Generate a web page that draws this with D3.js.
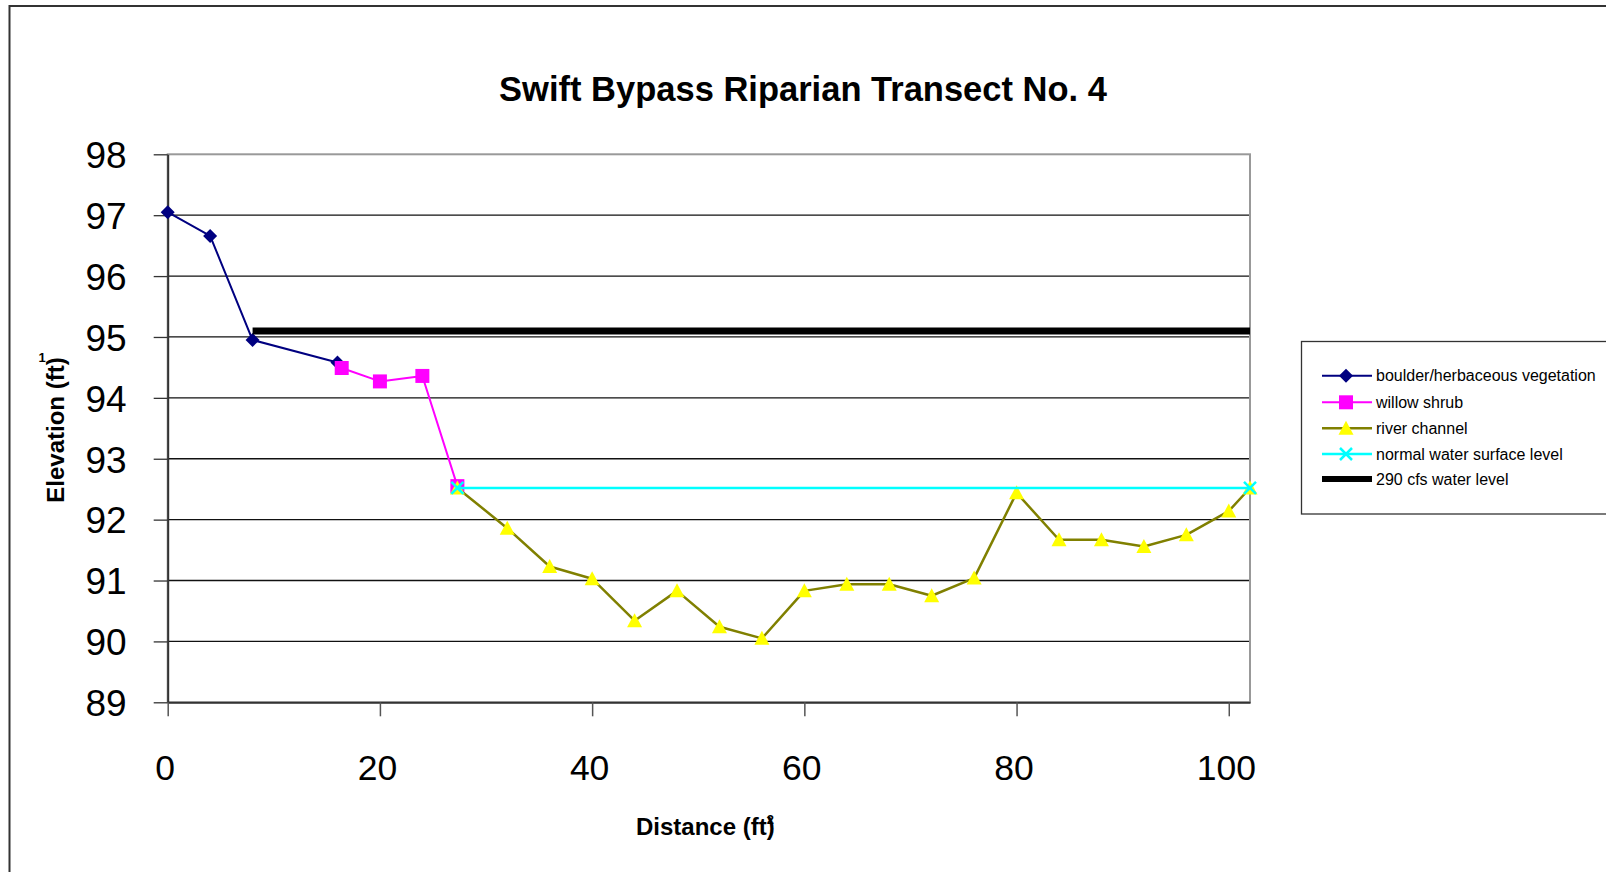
<!DOCTYPE html>
<html>
<head>
<meta charset="utf-8">
<script src="https://cdn.jsdelivr.net/npm/d3@7"></script>
<style>
  html, body { margin: 0; padding: 0; background: #fff; overflow: hidden; }
  svg { display: block; font-family: Arial, "Liberation Sans", sans-serif; }
</style>
</head>
<body>
<svg id="chart" width="1606" height="872"></svg>
<script>
// ---- Data ----
const title = "Swift Bypass Riparian Transect No. 4";
const xTicks = [0, 20, 40, 60, 80, 100];
const yTicks = [89, 90, 91, 92, 93, 94, 95, 96, 97, 98];

const boulderX = [0, 4, 8, 16];
const boulderY = [97.05, 96.66, 94.95, 94.58];

const willowX = [16.4, 20, 24, 27.3];
const willowY = [94.49, 94.27, 94.36, 92.55];

const riverX = [27.3, 32, 36, 40, 44, 48, 52, 56, 60, 64, 68, 72, 76, 80, 84, 88, 92, 96, 100, 102];
const riverY = [92.52, 91.86, 91.23, 91.03, 90.34, 90.83, 90.24, 90.05, 90.83, 90.94, 90.94, 90.75, 91.04, 92.44, 91.67, 91.67, 91.56, 91.75, 92.14, 92.52];

const normalX = [27.3, 102];
const normalY = [92.52, 92.52];

const cfsX = [8, 102];
const cfsY = [95.1, 95.1];

const seriesNames = ["boulder/herbaceous vegetation", "willow shrub", "river channel", "normal water surface level", "290 cfs water level"];

// ---- Layout ----
const svg = d3.select("#chart");
const L = 167.7, R = 1250, T = 154.3, B = 702.3;
const x = d3.scaleLinear().domain([0, 102]).range([L, R]);
const y = d3.scaleLinear().domain([89, 98]).range([B, T]);
const FONT = "Arial, 'Liberation Sans', sans-serif";

// outer chart border
svg.append("rect").attr("x", 9.5).attr("y", 6).attr("width", 1700).attr("height", 1000)
  .attr("fill", "none").attr("stroke", "#333").attr("stroke-width", 2);

// title
svg.append("text").attr("x", 803).attr("y", 101).attr("text-anchor", "middle")
  .attr("font-size", 34.5).attr("font-weight", "bold").attr("fill", "#000").text(title);

// gridlines
svg.append("g").selectAll("line").data(yTicks.filter(d => d !== 89 && d !== 98)).join("line")
  .attr("x1", L).attr("x2", R).attr("y1", d => y(d)).attr("y2", d => y(d))
  .attr("stroke", "#111").attr("stroke-width", 1.3);

// plot border (gray)
svg.append("rect").attr("x", L).attr("y", T).attr("width", R - L).attr("height", B - T)
  .attr("fill", "none").attr("stroke", "#999").attr("stroke-width", 2);

// Y axis
const yAxis = d3.axisLeft(y).tickValues(yTicks).tickSize(14).tickSizeOuter(0).tickFormat(d3.format("d"));
const gy = svg.append("g").attr("transform", `translate(${L},0)`).call(yAxis);
gy.select(".domain").attr("stroke", "#333").attr("stroke-width", 2);
gy.selectAll(".tick line").attr("stroke", "#333").attr("stroke-width", 1.3);
gy.selectAll(".tick text").attr("font-size", 37).attr("fill", "#000")
  .attr("font-family", FONT).attr("x", -41).attr("dy", "0.36em");

// X axis
const xAxis = d3.axisBottom(x).tickValues(xTicks).tickSize(14).tickSizeOuter(0).tickFormat(d3.format("d"));
const gx = svg.append("g").attr("transform", `translate(0,${B})`).call(xAxis);
gx.select(".domain").attr("stroke", "#333").attr("stroke-width", 2);
gx.selectAll(".tick line").attr("stroke", "#555").attr("stroke-width", 1.5);
gx.selectAll(".tick text").attr("font-size", 35.5).attr("fill", "#000")
  .attr("font-family", FONT).attr("y", 0).attr("dy", 0).attr("transform", "translate(-3,78)");

// axis titles
const xt = svg.append("text").attr("x", 636).attr("y", 835).attr("font-size", 24)
  .attr("font-weight", "bold").attr("fill", "#000").text("Distance (ft)");
const xtLen = xt.node().getComputedTextLength();
svg.append("text").attr("x", 636 + xtLen - 8).attr("y", 824).attr("font-size", 13)
  .attr("font-weight", "bold").attr("fill", "#000").text("2");

const yt = svg.append("text").attr("transform", "translate(64,430) rotate(-90)")
  .attr("text-anchor", "middle").attr("font-size", 24).attr("font-weight", "bold")
  .attr("fill", "#000").text("Elevation (ft)");
const ytLen = yt.node().getComputedTextLength();
svg.append("text").attr("x", 42).attr("y", 430 - ytLen / 2 + 5).attr("text-anchor", "middle")
  .attr("font-size", 13).attr("font-weight", "bold").attr("fill", "#000").text("1");

// ---- Series ----
const pts = (xs, ys) => xs.map((v, i) => [v, ys[i]]);
const line = d3.line().x(d => x(d[0])).y(d => y(d[1]));
const plot = svg.append("g");

const diamond = "M0,-7L7,0L0,7L-7,0Z";
const square = "M-7,-7H7V7H-7Z";
const triangle = "M0,-7.5L7.5,6.5L-7.5,6.5Z";
const cross = "M-6,-6L6,6M6,-6L-6,6";

function drawSeries(data, color, width, markerPath, markerFill, markerStroke, markerStrokeW) {
  plot.append("path").datum(data).attr("d", line).attr("fill", "none")
    .attr("stroke", color).attr("stroke-width", width).attr("stroke-linejoin", "round");
  if (markerPath) {
    plot.append("g").selectAll("path").data(data).join("path")
      .attr("transform", d => `translate(${x(d[0])},${y(d[1])})`)
      .attr("d", markerPath).attr("fill", markerFill)
      .attr("stroke", markerStroke || "none").attr("stroke-width", markerStrokeW || 0);
  }
}

drawSeries(pts(boulderX, boulderY), "#000080", 2, diamond, "#000080");
drawSeries(pts(willowX, willowY), "#FF00FF", 2, square, "#FF00FF");
drawSeries(pts(riverX, riverY), "#808000", 2.5, triangle, "#FFFF00");
drawSeries(pts(normalX, normalY), "#00FFFF", 2.5, cross, "none", "#00FFFF", 2.5);
drawSeries(pts(cfsX, cfsY), "#000000", 7, null);

// ---- Legend ----
const lg = svg.append("g");
lg.append("rect").attr("x", 1301.5).attr("y", 341.5).attr("width", 400).attr("height", 172.5)
  .attr("fill", "#fff").attr("stroke", "#333").attr("stroke-width", 1.3);
const legendStyles = [
  {color: "#000080", w: 2, m: diamond, fill: "#000080"},
  {color: "#FF00FF", w: 2, m: square, fill: "#FF00FF"},
  {color: "#808000", w: 2.5, m: triangle, fill: "#FFFF00"},
  {color: "#00FFFF", w: 2.5, m: cross, fill: "none", stroke: "#00FFFF", sw: 2.5},
  {color: "#000000", w: 6, m: null}
];
const rowY = [375.7, 402.3, 428.3, 454, 479];
seriesNames.forEach((name, i) => {
  const s = legendStyles[i];
  const yy = rowY[i];
  lg.append("line").attr("x1", 1322).attr("x2", 1372).attr("y1", yy).attr("y2", yy)
    .attr("stroke", s.color).attr("stroke-width", s.w);
  if (s.m) {
    lg.append("path").attr("transform", `translate(1346,${yy})`).attr("d", s.m)
      .attr("fill", s.fill).attr("stroke", s.stroke || "none").attr("stroke-width", s.sw || 0);
  }
  lg.append("text").attr("x", 1376).attr("y", yy).attr("dy", "0.36em")
    .attr("font-size", 16).attr("fill", "#000").text(name);
});
</script>
</body>
</html>
